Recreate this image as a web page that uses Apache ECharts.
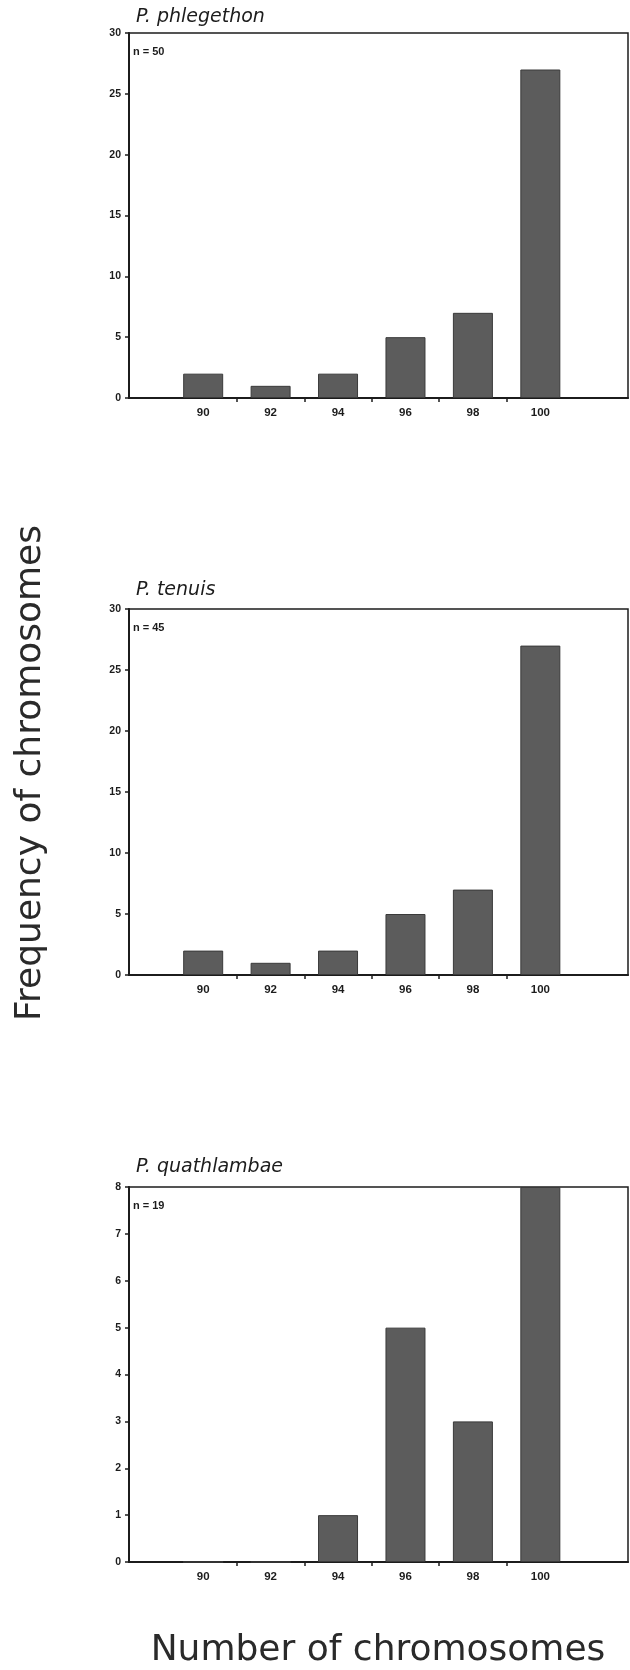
<!DOCTYPE html>
<html>
<head>
<meta charset="utf-8">
<script src="https://cdn.jsdelivr.net/npm/echarts@6/dist/echarts.min.js"></script>
<style>
  html, body { margin: 0; padding: 0; background: #ffffff; }
  #chart { width: 630px; height: 1670px; }
</style>
</head>
<body>
<div id="chart"></div>
<script>
// Chromosome-number classes (bar positions) and the odd values that carry tick marks
const chromosomeNumbers = [90, 92, 94, 96, 98, 100];
const tickPositions = [91, 93, 95, 97, 99];

// One histogram per species
const speciesNames = ['P. phlegethon', 'P. tenuis', 'P. quathlambae'];
const sampleSizes = [50, 45, 19];
const phlegethonCounts = [2, 1, 2, 5, 7, 27];
const tenuisCounts = [2, 1, 2, 5, 7, 27];
const quathlambaeCounts = [0, 0, 1, 5, 3, 8];
const countsBySpecies = [phlegethonCounts, tenuisCounts, quathlambaeCounts];

// Frequency axis extents
const yMaxima = [30, 30, 8];
const yIntervals = [5, 5, 1];

const ink = '#1c1c1c';
const barFill = '#5c5c5c';

// Panel placement on the page
const panels = [
  { top: 33, height: 365, titleY: 20 },
  { top: 609, height: 366, titleY: 593 },
  { top: 1187, height: 375, titleY: 1170 }
];
const plotLeft = 129;
const plotWidth = 499;

const grids = [], xAxes = [], yAxes = [], series = [], graphics = [];

panels.forEach((p, i) => {
  grids.push({
    left: plotLeft, width: plotWidth, top: p.top, height: p.height,
    show: true, borderColor: ink, borderWidth: 1.5, backgroundColor: 'transparent'
  });
  xAxes.push({
    gridIndex: i, type: 'value', min: 87.8, max: 102.6,
    axisLine: { show: true, onZero: false, lineStyle: { color: ink, width: 2 } },
    axisTick: { show: true, customValues: tickPositions, length: 4, inside: false,
                lineStyle: { color: ink, width: 1.5 } },
    axisLabel: { customValues: chromosomeNumbers, color: ink, fontSize: 11.5,
                 fontWeight: 'bold', fontFamily: 'Liberation Sans, Arial, sans-serif', margin: 9 },
    splitLine: { show: false }
  });
  yAxes.push({
    gridIndex: i, type: 'value', min: 0, max: yMaxima[i], interval: yIntervals[i],
    axisLine: { show: true, lineStyle: { color: ink, width: 2 } },
    axisTick: { show: true, length: 4, lineStyle: { color: ink, width: 1.5 } },
    axisLabel: { color: ink, fontSize: 10.5, fontWeight: 'bold',
                 fontFamily: 'Liberation Sans, Arial, sans-serif', margin: 8 },
    splitLine: { show: false }
  });
  series.push({
    type: 'bar', xAxisIndex: i, yAxisIndex: i, barWidth: 40,
    data: chromosomeNumbers.map((n, k) => [n, countsBySpecies[i][k]]),
    itemStyle: { color: barFill, borderColor: '#3a3a3a', borderWidth: 1 },
    silent: true
  });
  // Species name above each panel
  graphics.push({
    type: 'text', left: 136, top: p.titleY - 12,
    style: { text: speciesNames[i], fill: ink, font: 'italic 19px "DejaVu Sans", sans-serif' }
  });
  // Sample size inside the top-left corner
  graphics.push({
    type: 'text', left: 133, top: p.top + 13,
    style: { text: 'n = ' + sampleSizes[i], fill: ink, font: 'bold 11px "Liberation Sans", Arial, sans-serif' }
  });
});

// Shared axis titles
graphics.push({
  type: 'text', x: 31, y: 773, rotation: Math.PI / 2,
  style: { text: 'Frequency of chromosomes', fill: '#2a2a2a', align: 'center', verticalAlign: 'middle',
           font: '36px "DejaVu Sans", sans-serif' }
});
graphics.push({
  type: 'text', x: 378, y: 1651,
  style: { text: 'Number of chromosomes', fill: '#2a2a2a', align: 'center', verticalAlign: 'middle',
           font: '36px "DejaVu Sans", sans-serif' }
});

const chart = echarts.init(document.getElementById('chart'), null, { renderer: 'canvas' });
chart.setOption({
  backgroundColor: '#ffffff',
  animation: false,
  grid: grids,
  xAxis: xAxes,
  yAxis: yAxes,
  series: series,
  graphic: graphics
});
</script>
</body>
</html>
